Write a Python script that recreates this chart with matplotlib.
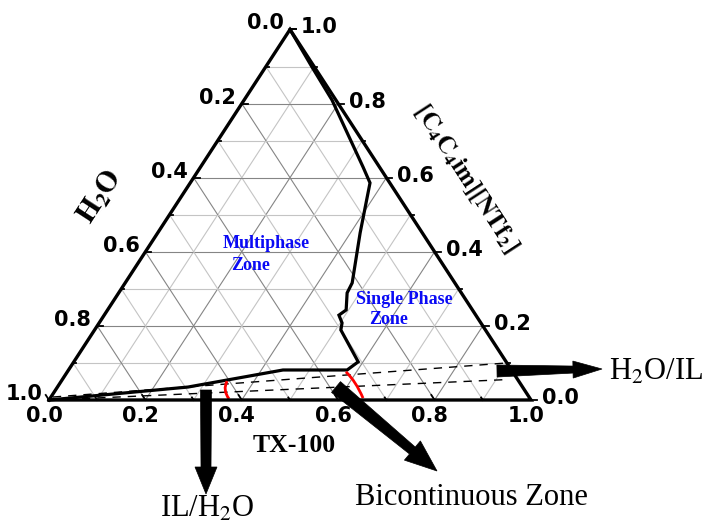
import numpy as np
import matplotlib
matplotlib.use("Agg")
import matplotlib.pyplot as plt
from matplotlib.patches import Polygon, PathPatch
from matplotlib.path import Path

plt.rcParams['mathtext.fontset'] = 'stix'

# compositions as (TX-100, [C4C4im][NTf2]) fractions, water is the rest
boundary_tx = [0.0, 0.096, 0.182, 0.337, 0.373, 0.420, 0.471, 0.474, 0.495,
               0.487, 0.504, 0.511, 0.590, 0.578, 0.445, 0.271, 0.0]
boundary_il = [1.0, 0.899, 0.810, 0.629, 0.586, 0.451, 0.316, 0.289, 0.243,
               0.229, 0.208, 0.189, 0.103, 0.081, 0.081, 0.035, 0.0]

tie_upper_tx = [0.004, 0.90]
tie_upper_il = [0.008, 0.10]
tie_lower_tx = [0.005, 0.92]
tie_lower_il = [0.000, 0.055]

# red transition arcs: start, middle, end
arc1_tx = [0.344, 0.352, 0.372]
arc1_il = [0.051, 0.027, 0.003]
arc2_tx = [0.578, 0.612, 0.649]
arc2_il = [0.076, 0.046, 0.005]

ticks = np.round(np.arange(0, 1.01, 0.1), 1)
tick_labels = ['0.0', '0.2', '0.4', '0.6', '0.8', '1.0']

W, H = 708, 525
PX_W, PX_H = 482.0, 370.5   # triangle size in pixels


def to_xy(tx, il):
    tx = np.asarray(tx, float)
    il = np.asarray(il, float)
    return tx + 0.5 * il, il


fig = plt.figure(figsize=(W / 100, H / 100), dpi=100)
ax = fig.add_axes([49 / W, (H - 400) / H, PX_W / W, PX_H / H])
ax.set_xlim(0, 1)
ax.set_ylim(0, 1)
ax.axis('off')

# grid
for v in ticks[1:-1]:
    major = abs(v * 10 % 2) < 1e-6
    col = '#858585' if major else '#c4c4c4'
    segs = [to_xy([0, 1 - v], [v, v]),          # constant IL
            to_xy([v, v], [0, 1 - v]),          # constant TX-100
            to_xy([1 - v, 0], [0, 1 - v])]      # constant water
    for x, y in segs:
        ax.plot(x, y, color=col, lw=0.8, zorder=1, clip_on=False)

# tie lines
for tx, il in [(tie_upper_tx, tie_upper_il), (tie_lower_tx, tie_lower_il)]:
    x, y = to_xy(tx, il)
    ax.plot(x, y, color='k', lw=1.0, ls=(0, (6, 5)), zorder=2, clip_on=False)

# phase boundary
x, y = to_xy(boundary_tx, boundary_il)
ax.plot(x, y, color='k', lw=2.3, zorder=3, clip_on=False, solid_joinstyle='miter')

# red arcs as quadratic curves through the middle point
for tx, il in [(arc1_tx, arc1_il), (arc2_tx, arc2_il)]:
    x, y = to_xy(tx, il)
    p0 = np.array([x[0], y[0]])
    pm = np.array([x[1], y[1]])
    p2 = np.array([x[2], y[2]])
    ctrl = 2 * pm - (p0 + p2) / 2
    path = Path([p0, ctrl, p2], [Path.MOVETO, Path.CURVE3, Path.CURVE3])
    ax.add_patch(PathPatch(path, fc='none', ec='red', lw=2.0, zorder=4, clip_on=False))

# triangle edges
ex, ey = to_xy([0, 1, 0, 0], [0, 0, 1, 0])
ax.plot(ex, ey, color='k', lw=2.4, zorder=5, clip_on=False, solid_joinstyle='miter')

# tick marks and labels
bold_sans = dict(family='DejaVu Sans', fontweight='bold', fontsize=15)
for v in ticks:
    major = abs(v * 10 % 2) < 1e-6
    ln = 6 if major else 3
    # left axis: water
    x0, y0 = to_xy(0, 1 - v)
    ax.plot([x0, x0 + ln / PX_W], [y0, y0], color='k', lw=1.3, zorder=5, clip_on=False)
    # right axis: IL
    x1, y1 = to_xy(1 - v, v)
    ax.plot([x1, x1 + ln / PX_W], [y1, y1], color='k', lw=1.3, zorder=5, clip_on=False)
    # bottom axis: TX-100
    x2, y2 = to_xy(v, 0)
    ax.plot([x2, x2 - 0.545 * ln / PX_W], [y2, y2 + 0.838 * ln / PX_H],
            color='k', lw=1.3, zorder=5, clip_on=False)
    if major:
        lab = tick_labels[int(round(v * 5))]
        ax.annotate(lab, (x0, y0), xytext=(-6, 6), textcoords='offset pixels',
                    ha='right', va='center', **bold_sans)
        ax.annotate(lab, (x1, y1), xytext=(11, 2), textcoords='offset pixels',
                    ha='left', va='center', **bold_sans)
        ax.annotate(lab, (x2, y2), xytext=(-5, -16), textcoords='offset pixels',
                    ha='center', va='center', **bold_sans)

# overlay in pixel units for titles and arrows
ov = fig.add_axes([0, 0, 1, 1])
ov.set_xlim(0, W)
ov.set_ylim(H, 0)
ov.axis('off')
ov.set_zorder(2)


def block_arrow(tail, tip, w0, w1, hw, hl):
    tail = np.array(tail, float)
    tip = np.array(tip, float)
    d = tip - tail
    u = d / np.hypot(*d)
    n = np.array([-u[1], u[0]])
    base = tip - u * hl
    pts = [tail + n * w0 / 2, base + n * w1 / 2, base + n * hw / 2, tip,
           base - n * hw / 2, base - n * w1 / 2, tail - n * w0 / 2]
    ov.add_patch(Polygon(pts, closed=True, fc='k', ec='k', lw=0.5))


block_arrow((206, 390), (206, 494), 11, 10, 22, 27)
block_arrow((336, 387), (437, 471), 14, 9, 25, 32)
block_arrow((497, 371), (602, 369), 12, 7, 17, 29)

serif = 'Liberation Serif'
ov.text(294, 445, 'TX-100', family=serif, fontweight='bold', fontsize=18.5,
        ha='center', va='center')
ov.text(100, 197, r'$\mathbf{H_2O}$', fontsize=21, rotation=57,
        ha='center', va='center', rotation_mode='anchor')
ov.text(466, 178, r'$\mathbf{[C_4C_4im][NTf_2]}$', fontsize=18, rotation=-57,
        ha='center', va='center', rotation_mode='anchor')

blue = dict(family=serif, fontweight='bold', fontsize=13, color='#0a0af5',
            ha='center', va='center')
ov.text(266, 243, 'Multiphase', **blue)
ov.text(251, 266, 'Zone', **blue)
ov.text(404, 299, 'Single Phase', **blue)
ov.text(389, 320, 'Zone', **blue)

ov.text(207, 517, r'IL/H$_2$O', family=serif, fontsize=22, ha='center', va='baseline')
ov.text(471, 505, 'Bicontinuous Zone', family=serif, fontsize=22, ha='center', va='baseline')
ov.text(656, 380, r'H$_2$O/IL', family=serif, fontsize=22, ha='center', va='baseline')

fig.savefig('out.png', dpi=100)
